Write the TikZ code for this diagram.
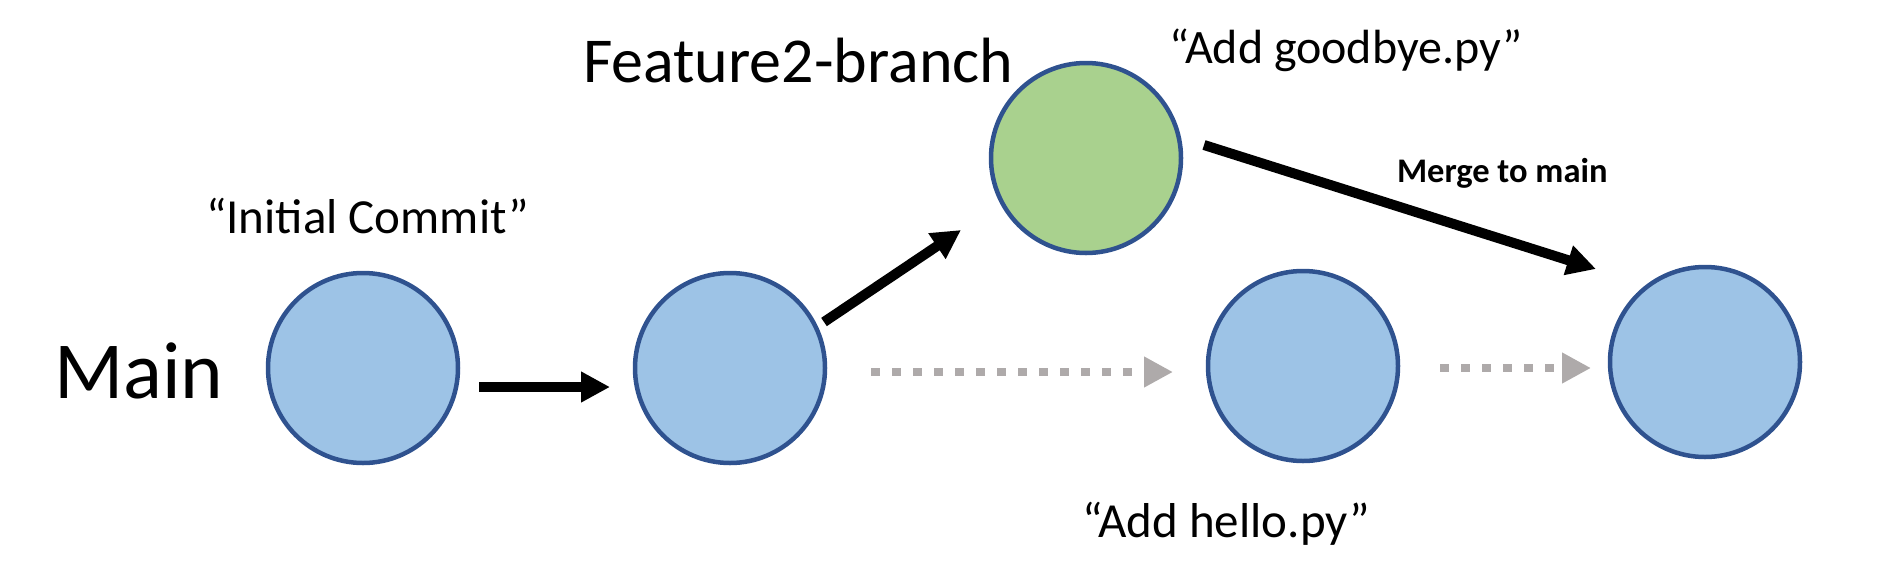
\documentclass[tikz,border=0pt]{standalone}
\usepackage{fontspec}
\setmainfont{Carlito}
\usetikzlibrary{arrows.meta}
\definecolor{cfill}{HTML}{9DC3E6}
\definecolor{cline}{HTML}{2F528F}
\definecolor{gfill}{HTML}{A9D18E}
\definecolor{dgray}{HTML}{AEAAAA}
\tikzset{
  commit/.style={circle, draw=cline, line width=4.5pt, fill=cfill, minimum size=190pt, inner sep=0pt},
  fcommit/.style={commit, fill=gfill},
  lbl/.style={anchor=base west, inner sep=0pt, outer sep=0pt},
  solidarrow/.style={line width=10pt, -{Triangle[length=29pt,width=29pt]}},
  grayarrow/.style={draw=dgray, line width=8.5pt, dash pattern=on 9pt off 12pt, -{Triangle[length=29pt,width=29pt]}},
}
\begin{document}
\begin{tikzpicture}[x=1pt,y=-1pt]
\useasboundingbox (0,0) rectangle (1883,582);
\node[commit] (c1) at (363,368) {};
\node[commit] (c2) at (730,368) {};
\node[fcommit] (c3) at (1086,158) {};
\node[commit] (c4) at (1303,366) {};
\node[commit] (c5) at (1705,362) {};

\node[lbl, font=\fontsize{81}{90}\selectfont] (main) at (54,398) {Main};
\node[lbl, font=\fontsize{49}{54}\selectfont] (init) at (206,233) {“Initial Commit”};
\node[lbl, font=\fontsize{64}{70}\selectfont] (feat) at (583,82) {Feature2-branch};
\node[lbl, font=\fontsize{48}{54}\selectfont] (good) at (1169,63) {“Add goodbye.py”};
\node[lbl, font=\fontsize{34.5}{38}\selectfont\bfseries] (merge) at (1397,182) {Merge to main};
\node[lbl, font=\fontsize{49}{54}\selectfont] (hello) at (1082,537) {“Add hello.py”};

\coordinate (a1s) at (479,387);
\coordinate (a1e) at (610,387);
\coordinate (a2s) at (824,322);
\coordinate (a2e) at (961,230);
\coordinate (a3s) at (1204,145);
\coordinate (a3e) at (1596,269);
\coordinate (g1s) at (871,372);
\coordinate (g1e) at (1173,372);
\coordinate (g2s) at (1440,368);
\coordinate (g2e) at (1591,368);

\draw[solidarrow] (a1s) -- (a1e);
\draw[solidarrow] (a2s) -- (a2e);
\draw[solidarrow] (a3s) -- (a3e);
\draw[grayarrow] (g1s) -- (g1e);
\draw[grayarrow] (g2s) -- (g2e);
\end{tikzpicture}
\end{document}
